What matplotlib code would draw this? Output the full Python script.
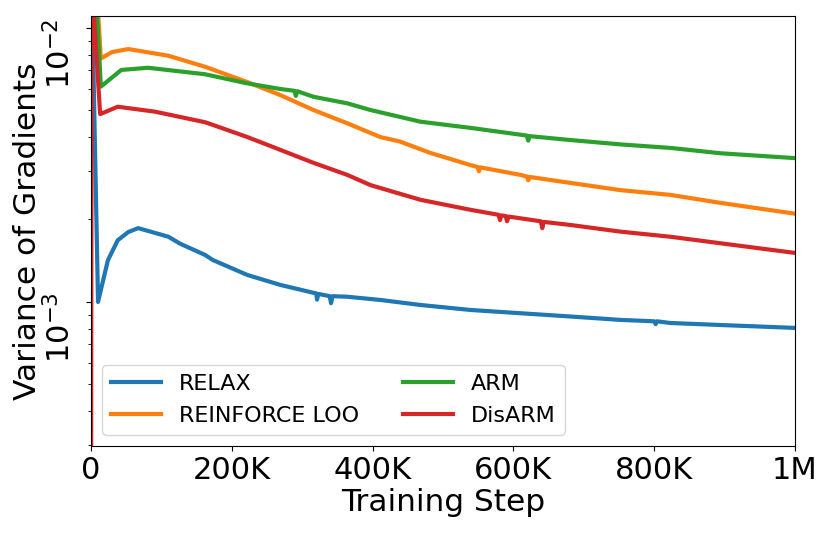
import matplotlib
matplotlib.use("Agg")
import matplotlib.pyplot as plt
from matplotlib.ticker import NullFormatter
from matplotlib.transforms import ScaledTranslation

# training steps (thousands) and variance of gradients (x 1e-3)
relax_steps = [0, 10, 24, 38, 53, 67, 110, 127, 162, 173, 222, 269, 316, 320, 321, 323,
               339, 341, 343, 364, 411, 468, 539, 681, 752, 800, 802, 804, 823, 894, 1000]
relax_vals = [20.0, 1.00, 1.42, 1.68, 1.80, 1.86, 1.73, 1.63, 1.485, 1.423, 1.255, 1.154,
              1.08, 1.075, 1.02, 1.07, 1.05, 0.99, 1.05, 1.045, 1.017, 0.975, 0.935, 0.885,
              0.86, 0.85, 0.83, 0.85, 0.838, 0.824, 0.804]

loo_steps = [0, 14, 30, 53, 110, 162, 222, 269, 316, 364, 411, 439, 482, 539, 549, 551,
             553, 610, 619, 621, 623, 681, 752, 823, 894, 1000]
loo_vals = [30.0, 7.74, 8.17, 8.38, 7.92, 7.22, 6.35, 5.69, 5.02, 4.49, 4.00, 3.85, 3.50,
            3.16, 3.11, 3.00, 3.10, 2.91, 2.87, 2.78, 2.86, 2.72, 2.56, 2.46, 2.30, 2.10]

arm_steps = [0, 14, 43, 81, 162, 222, 269, 289, 291, 293, 316, 364, 397, 468, 539,
             619, 621, 623, 681, 752, 823, 894, 1000]
arm_vals = [30.0, 6.11, 7.03, 7.16, 6.78, 6.28, 5.99, 5.90, 5.65, 5.88, 5.61, 5.31, 5.02,
            4.55, 4.32, 4.05, 3.88, 4.03, 3.90, 3.76, 3.65, 3.49, 3.35]

disarm_steps = [0, 1, 13, 38, 91, 162, 173, 222, 269, 316, 364, 397, 468, 539, 579, 581,
                583, 589, 591, 593, 639, 641, 643, 681, 752, 823, 894, 1000]
disarm_vals = [0.1, 15.0, 4.85, 5.16, 4.95, 4.53, 4.43, 4.00, 3.59, 3.22, 2.91, 2.67, 2.36,
               2.17, 2.08, 1.99, 2.07, 2.06, 1.97, 2.05, 1.97, 1.86, 1.96, 1.91, 1.806,
               1.73, 1.638, 1.51]

names = ["RELAX", "REINFORCE LOO", "ARM", "DisARM"]
colors = ["#1f77b4", "#ff7f0e", "#2ca02c", "#d62728"]

xtick_pos = [0, 200, 400, 600, 800, 1000]
xtick_lab = ["0", "200K", "400K", "600K", "800K", "1M"]
ytick_pos = [1e-3, 1e-2]

fig = plt.figure(figsize=(8.31, 5.36), dpi=100)
ax = fig.add_axes([0.1095, 0.1679, 0.8472, 0.8022])

series = [(relax_steps, relax_vals), (loo_steps, loo_vals),
          (arm_steps, arm_vals), (disarm_steps, disarm_vals)]
for (s, v), name, c in zip(series, names, colors):
    ax.plot([k * 1000 for k in s], [x * 1e-3 for x in v], color=c, lw=3, label=name)

ax.set_yscale("log")
ax.set_xlim(0, 1e6)
ax.set_ylim(2.98e-4, 1.106e-2)
ax.set_xticks([k * 1000 for k in xtick_pos])
ax.set_xticklabels(xtick_lab)
ax.set_yticks(ytick_pos)
ax.yaxis.set_minor_formatter(NullFormatter())
ax.tick_params(axis="both", which="major", labelsize=22)

# rotated y tick labels hanging just below their tick
shift = ScaledTranslation(-5 / 100, 10 / 100, fig.dpi_scale_trans)
for lab in ax.get_yticklabels():
    lab.set_rotation(90)
    lab.set_va("top")
    lab.set_transform(lab.get_transform() + shift)

ax.set_xlabel("Training Step", fontsize=22.5, labelpad=2)
ax.set_ylabel("Variance of Gradients", fontsize=22.5, labelpad=1)

ax.legend(loc="lower left", ncol=2, fontsize=16, handlelength=2.25, labelspacing=0.55)

fig.savefig("out.png", dpi=100)
